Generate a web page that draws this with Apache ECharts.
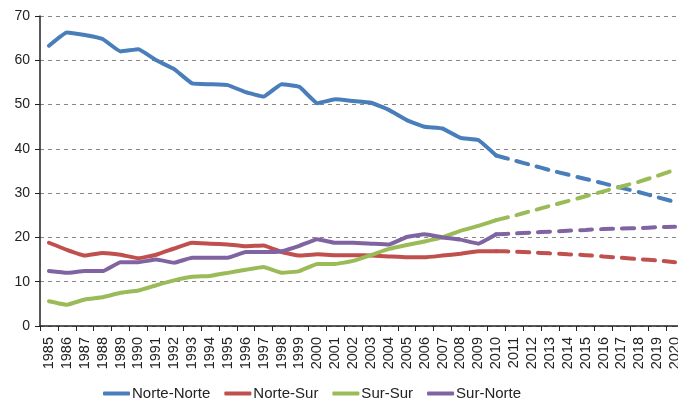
<!DOCTYPE html>
<html><head><meta charset="utf-8">
<script src="https://cdn.jsdelivr.net/npm/echarts@6/dist/echarts.min.js"></script>
<style>html,body{margin:0;padding:0;background:#fff;overflow:hidden}#c{width:684px;height:408px}</style>
</head><body><div id="c"></div>
<script>
var years = [];
for (var y = 1985; y <= 2020; y++) years.push(String(y));
var lastActual = "2010";
var norteNorte = [63.3,66.3,65.7,64.8,62.0,62.5,60.0,58.0,54.8,54.6,54.4,52.8,51.8,54.6,54.0,50.3,51.2,50.8,50.4,48.8,46.5,45.0,44.6,42.5,42.0,38.5,37.4,36.3,35.2,34.2,33.2,32.2,31.2,30.2,29.1,28.0];
var norteSur = [18.8,17.2,15.9,16.5,16.1,15.3,16.1,17.5,18.8,18.6,18.4,18.0,18.2,16.7,15.9,16.2,16.0,16.0,15.9,15.7,15.5,15.5,15.9,16.3,16.9,16.9,16.8,16.6,16.4,16.2,16.0,15.7,15.4,15.1,14.8,14.4];
var surSur = [5.6,4.8,6.0,6.5,7.5,8.0,9.2,10.3,11.1,11.3,12.0,12.7,13.3,12.0,12.4,14.0,14.0,14.7,16.0,17.4,18.3,19.1,20.0,21.5,22.6,23.9,24.9,26.0,27.1,28.2,29.3,30.4,31.5,32.6,33.9,35.3];
var surNorte = [12.4,12.0,12.4,12.4,14.4,14.4,15.0,14.3,15.4,15.4,15.4,16.7,16.7,16.9,18.1,19.6,18.8,18.8,18.6,18.4,20.1,20.7,20.0,19.5,18.6,20.7,20.9,21.1,21.3,21.5,21.7,21.9,22.0,22.1,22.3,22.4];
var names = ["Norte-Norte","Norte-Sur","Sur-Sur","Sur-Norte"];
var colors = ["#4a7ebb","#c0504d","#9bbb59","#8064a2"];
var all = [norteNorte, norteSur, surSur, surNorte];

var cut = years.indexOf(lastActual);
var series = [];
all.forEach(function(arr, i){
  series.push({name: names[i], type:'line', symbol:'none', smooth:0.1,
    data: arr.map(function(v,k){return k<=cut?v:null;}),
    lineStyle:{color:colors[i], width:4, cap:'round', join:'round'}, itemStyle:{color:colors[i]}});
});
all.forEach(function(arr, i){
  series.push({name: names[i]+' proj', type:'line', symbol:'none', smooth:0.1,
    data: arr.map(function(v,k){return k>=cut?v:null;}),
    lineStyle:{color:colors[i], width:4, type:[12,9], cap:'round'}, itemStyle:{color:colors[i]}});
});

var chart = echarts.init(document.getElementById('c'), null, {renderer:'canvas'});
chart.setOption({
  animation:false,
  textStyle:{fontFamily:'Liberation Sans, Arial, sans-serif'},
  grid:{left:40, right:0, top:16, height:310, containLabel:false},
  legend:{data:names, top:381, left:98, icon:'roundRect', itemWidth:27, itemHeight:4, itemGap:14,
    textStyle:{fontSize:15, color:'#222', fontFamily:'Liberation Sans, Arial, sans-serif', padding:[0,0,0,-3]}},
  xAxis:{type:'category', data:years, boundaryGap:true,
    axisLine:{lineStyle:{color:'#222', width:1.5}},
    axisTick:{show:true, length:5, lineStyle:{color:'#222'}},
    axisLabel:{rotate:90, fontSize:14.5, color:'#222', interval:0, margin:11}},
  yAxis:{type:'value', min:0, max:70, interval:10,
    axisLine:{show:true, lineStyle:{color:'#222', width:1.5}},
    axisTick:{show:true, length:5, lineStyle:{color:'#222'}},
    axisLabel:{fontSize:14, color:'#222', margin:10},
    splitLine:{lineStyle:{color:'#888', type:[4,4], width:1}}},
  series: series
});
</script></body></html>
